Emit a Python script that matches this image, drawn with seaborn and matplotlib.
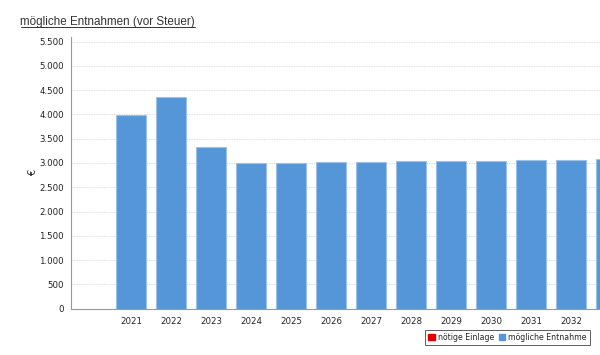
import matplotlib
matplotlib.use("Agg")
import matplotlib.pyplot as plt
import seaborn as sns
import pandas as pd
from matplotlib.patches import Patch
from matplotlib.ticker import FuncFormatter, MultipleLocator

title = "mögliche Entnahmen (vor Steuer)"
slots = ["2020", "2021", "2022", "2023", "2024", "2025", "2026", "2027",
         "2028", "2029", "2030", "2031", "2032", "2033"]
years = ["2021", "2022", "2023", "2024", "2025", "2026", "2027",
         "2028", "2029", "2030", "2031", "2032", "2033"]
entnahme = [3990, 4350, 3330, 2995, 3005, 3013, 3020, 3033, 3040, 3047, 3060, 3068, 3080]
legend_labels = ["nötige Einlage", "mögliche Entnahme"]
blue = "#5596d9"
red = "#e00000"

sns.set_theme(style="white")
plt.rcParams['font.family'] = ['DejaVu Sans']

df = pd.DataFrame({"Jahr": years, "Wert": entnahme})

fig = plt.figure(figsize=(6.0, 3.55), dpi=100)
ax = fig.add_axes([71/600, 46.3/355, 529/600, 272/355])
sns.barplot(data=df, x="Jahr", y="Wert", order=slots, color=blue, saturation=1,
            width=0.77, edgecolor="#9cc2ea", linewidth=0.8, ax=ax)

ax.yaxis.set_major_locator(MultipleLocator(500))
ax.yaxis.set_major_formatter(FuncFormatter(lambda v, p: f"{int(v):,}".replace(",", ".")))
ax.grid(axis="y", color="#d6d6d6", linestyle=(0, (1.5, 1.5)), linewidth=0.6)
ax.set_axisbelow(True)
for s in ["top", "right"]:
    ax.spines[s].set_visible(False)
for s in ["left", "bottom"]:
    ax.spines[s].set_color("#999999")
    ax.spines[s].set_linewidth(0.8)
ax.tick_params(axis="both", labelsize=6.2, colors="#222222", length=3, width=0.6,
               color="#999999", pad=2)
ax.tick_params(axis="x", pad=3)
ax.set_xticks(range(len(slots)))
ax.set_xticklabels(["" if l in ("2020", "2033") else l for l in slots])
ax.set_xlim(-0.5, -0.5 + 529/40)
ax.set_ylim(0, 5600)
ax.set_xlabel("")
ax.set_ylabel("€", fontsize=7, color="#222222", labelpad=1)

t = fig.text(20.5/600, 1 - 21.7/355, title, fontsize=8.4, color="#333333",
             family=["Liberation Sans", "DejaVu Sans"], va="center", ha="left")
fig.canvas.draw()
bb = t.get_window_extent()
fig.add_artist(plt.Line2D([bb.x0 / 600, bb.x1 / 600],
                          [(bb.y0 + 0.3) / 355, (bb.y0 + 0.3) / 355],
                          color="#333333", linewidth=0.7))

handles = [Patch(facecolor=red, edgecolor=red), Patch(facecolor=blue, edgecolor=blue)]
leg = fig.legend(handles, legend_labels, loc="center", bbox_to_anchor=(507.5/600, 1 - 337.5/355),
                 ncol=2, fontsize=5.6, frameon=True, fancybox=False, handlelength=0.8,
                 handleheight=0.8, handletextpad=0.4, columnspacing=0.6,
                 borderpad=0.4, borderaxespad=0)
leg.get_frame().set_edgecolor("#333333")
leg.get_frame().set_linewidth(0.7)

fig.savefig("out.png", dpi=100)
